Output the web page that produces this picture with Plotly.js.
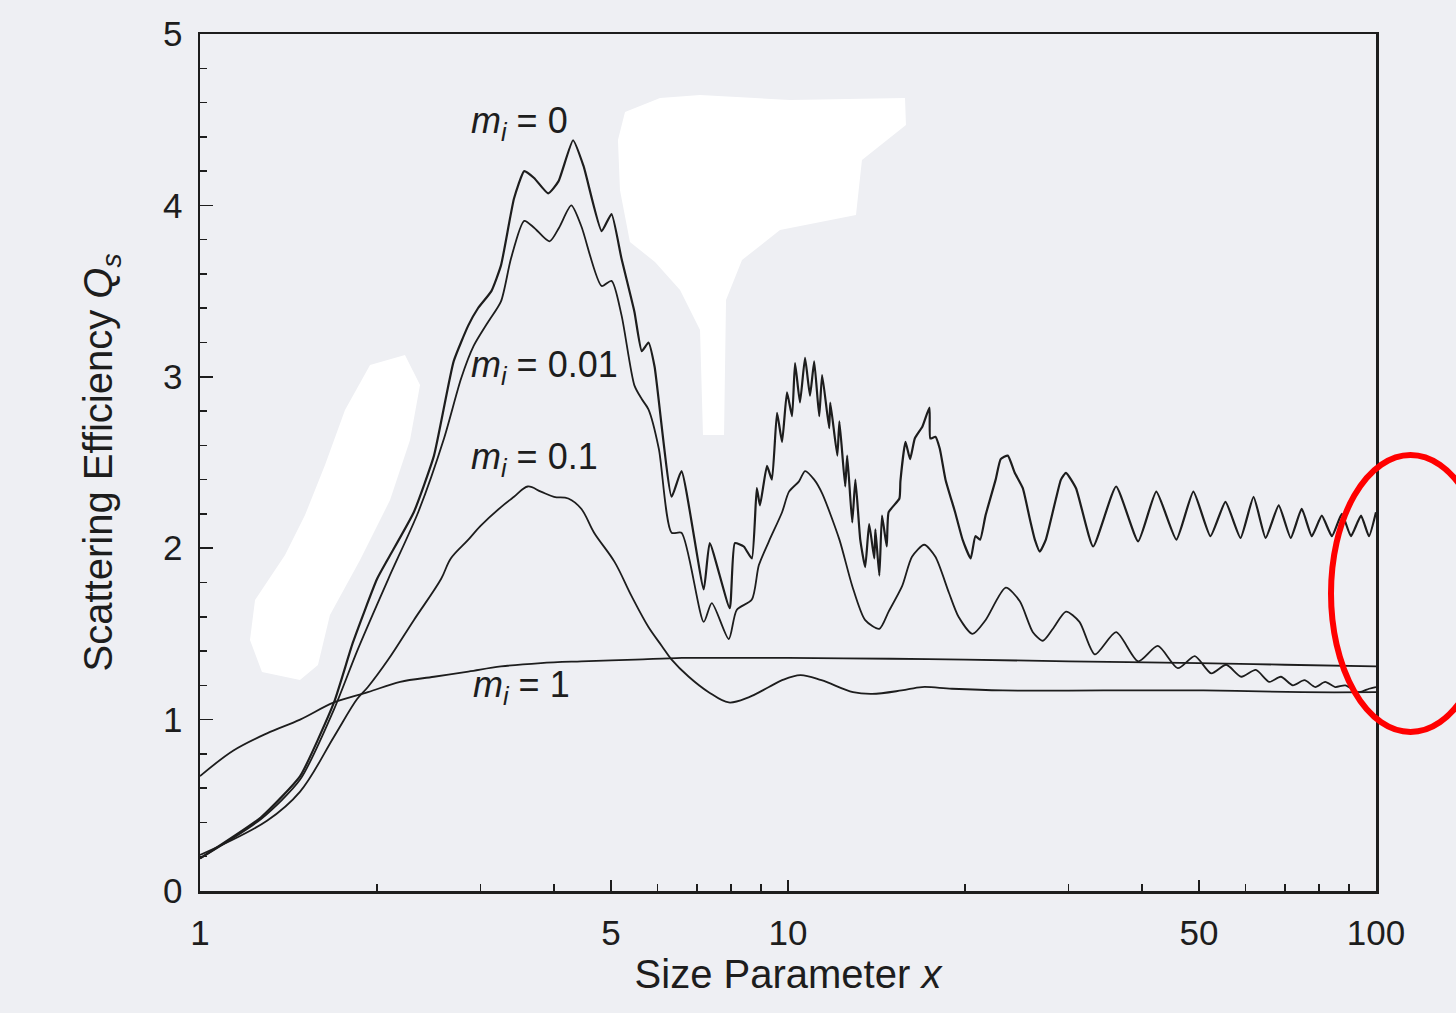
<!DOCTYPE html>
<html>
<head>
<meta charset="utf-8">
<script src="https://cdn.plot.ly/plotly-3.0.1.min.js"></script>
<style>html,body{margin:0;padding:0;background:#eeeff3;}</style>
</head>
<body>
<div id="chart" style="width:1456px;height:1013px;"></div>
<script>
// ---- data ----
const x_mi0 = [1.00,1.27,1.48,1.69,1.82,2.00,2.09,2.31,2.50,2.70,2.86,2.97,3.13,3.25,3.42,3.56,3.70,3.91,4.07,4.31,4.49,4.82,5.01,5.21,5.48,5.64,5.79,5.93,6.34,6.59,7.19,7.36,7.96,8.12,8.41,8.68,8.85,8.96,9.21,9.39,9.58,9.77,9.96,10.16,10.28,10.48,10.69,10.90,11.08,11.30,11.43,11.75,11.80,12.13,12.23,12.51,12.61,12.86,13.02,13.27,13.53,13.74,14.02,14.08,14.30,14.45,14.72,14.83,15.47,15.53,15.84,16.13,16.43,16.93,17.40,17.46,17.81,18.12,18.53,19.24,19.81,20.45,20.83,21.22,21.67,22.55,23.0,23.65,24.30,25.08,25.78,26.29,26.81,27.45,28.56,29.12,29.70,30.89,33.03,36.14,39.40,42.30,45.76,48.91,52.29,55.46,58.83,61.91,64.91,68.32,71.61,74.76,77.77,80.88,84.13,87.50,90.65,94.30,97.29,100];
const y_mi0 = [0.19,0.43,0.67,1.10,1.45,1.82,1.94,2.21,2.54,3.09,3.30,3.40,3.50,3.65,4.04,4.20,4.16,4.07,4.14,4.38,4.23,3.85,3.95,3.69,3.38,3.15,3.20,3.06,2.30,2.45,1.76,2.03,1.65,2.03,2.01,1.94,2.35,2.25,2.48,2.40,2.79,2.62,2.91,2.77,3.08,2.85,3.11,2.89,3.09,2.77,3.01,2.70,2.85,2.54,2.74,2.36,2.54,2.15,2.40,2.05,1.89,2.14,1.94,2.11,1.84,2.19,2.01,2.21,2.29,2.39,2.62,2.52,2.64,2.71,2.82,2.64,2.65,2.58,2.40,2.21,2.05,1.94,2.07,2.05,2.19,2.40,2.52,2.54,2.44,2.35,2.17,2.05,1.98,2.05,2.29,2.40,2.44,2.35,2.01,2.36,2.04,2.33,2.05,2.33,2.07,2.27,2.06,2.30,2.06,2.25,2.06,2.23,2.07,2.19,2.07,2.20,2.07,2.19,2.07,2.21];

const x_mi001 = [1.00,1.27,1.48,1.69,1.85,2.09,2.35,2.60,2.78,2.92,3.09,3.25,3.38,3.56,3.70,3.93,4.08,4.28,4.45,4.82,5.01,5.21,5.48,5.64,5.79,6.03,6.34,6.59,7.19,7.42,7.93,8.18,8.68,8.92,9.28,9.77,10.04,10.44,10.69,11.08,11.43,12.23,12.86,13.53,14.30,14.83,15.64,16.25,17.05,17.81,18.78,19.50,20.60,21.67,23.46,24.79,26.09,27.13,28.22,29.70,31.31,33.26,36.14,39.40,42.55,46.02,49.19,52.45,55.63,59.00,62.45,65.86,68.90,72.21,75.57,78.83,81.96,85.24,88.65,93.54,97.29,100];
const y_mi001 = [0.19,0.42,0.65,1.06,1.40,1.82,2.21,2.64,2.99,3.18,3.32,3.44,3.69,3.91,3.87,3.79,3.87,4.00,3.88,3.53,3.56,3.36,2.95,2.87,2.81,2.58,2.09,2.09,1.57,1.68,1.47,1.64,1.70,1.90,2.04,2.21,2.33,2.39,2.45,2.40,2.32,2.05,1.78,1.58,1.53,1.63,1.78,1.95,2.02,1.95,1.74,1.60,1.50,1.58,1.77,1.69,1.51,1.46,1.53,1.63,1.57,1.38,1.51,1.34,1.43,1.30,1.37,1.27,1.32,1.25,1.29,1.22,1.25,1.20,1.23,1.19,1.22,1.19,1.20,1.16,1.18,1.19];

const x_mi01 = [1.00,1.30,1.48,1.69,1.85,1.93,2.09,2.31,2.57,2.67,2.86,3.00,3.25,3.42,3.61,3.80,4.00,4.23,4.45,4.68,5.07,5.42,5.79,6.10,6.34,6.78,7.33,7.93,8.57,9.28,9.77,10.5,11.4,12.9,13.9,15.6,16.9,19.0,23.2,34.4,50.9,75,100];
const y_mi01 = [0.21,0.41,0.58,0.90,1.12,1.19,1.35,1.58,1.82,1.94,2.05,2.13,2.24,2.30,2.36,2.33,2.30,2.29,2.23,2.09,1.92,1.72,1.54,1.43,1.35,1.25,1.16,1.10,1.13,1.19,1.23,1.26,1.23,1.16,1.15,1.17,1.19,1.18,1.17,1.17,1.17,1.16,1.16];

const x_mi1 = [1.00,1.14,1.30,1.48,1.69,1.93,2.19,2.50,2.86,3.25,3.80,4.45,5.5,6.6,8.0,10,15,20,30,50,70,100];
const y_mi1 = [0.67,0.82,0.92,1.00,1.10,1.16,1.22,1.25,1.28,1.31,1.33,1.34,1.35,1.36,1.36,1.36,1.355,1.35,1.34,1.33,1.32,1.31];

const seriesLabels = ['<i>m</i><sub><i>i</i></sub> = 0', '<i>m</i><sub><i>i</i></sub> = 0.01', '<i>m</i><sub><i>i</i></sub> = 0.1', '<i>m</i><sub><i>i</i></sub> = 1'];
const labelX = [3.50, 3.86, 3.71, 3.52];
const labelY = [4.48, 3.06, 2.52, 1.19];

const xTickVals = [1, 5, 10, 50, 100];
const xTickText = ['1', '5', '10', '50', '100'];
const xMinorVals = [2,3,4,6,7,8,9,20,30,40,60,70,80,90];
const yTickVals = [0, 1, 2, 3, 4, 5];

// ---- drawing ----
const ink = '#1d1d1d';
const FONT = 'Liberation Sans, Arial, Helvetica, sans-serif';

const xs = [x_mi0, x_mi001, x_mi01, x_mi1];
const ys = [y_mi0, y_mi001, y_mi01, y_mi1];
const widths = [2.2, 1.8, 1.8, 1.8];
const smooth = [0.45, 0.7, 1.0, 1.0];
const traces = xs.map((xv, i) => ({
  x: xv, y: ys[i], type: 'scatter', mode: 'lines',
  line: {color: ink, width: widths[i], shape: 'spline', smoothing: smooth[i]},
  name: seriesLabels[i], showlegend: false, hoverinfo: 'skip'
}));

const annotations = seriesLabels.map((t, i) => ({
  x: Math.log10(labelX[i]), y: labelY[i], xref: 'x', yref: 'y',
  text: t, showarrow: false, font: {family: FONT, size: 36, color: ink}
}));

// paper-coordinate helper for decorative scan shapes (pixel -> paper)
const L = 200, R = 1376, T = 34, B = 891;
const px = (X) => ((X - L) / (R - L)).toFixed(4);
const py = (Y) => ((B - Y) / (B - T)).toFixed(4);
function blob(pts) {
  return 'M ' + pts.map(p => px(p[0]) + ',' + py(p[1])).join(' L ') + ' Z';
}
const blobA = [[625,112],[660,98],[700,95],[790,100],[905,98],[906,125],[862,160],[856,215],[780,230],[742,260],[726,300],[724,435],[703,435],[700,330],[680,290],[655,262],[630,242],[620,190],[618,140]];
const blobB = [[370,365],[405,355],[420,385],[410,440],[390,500],[360,560],[330,615],[318,665],[300,680],[262,672],[250,640],[255,600],[285,555],[305,515],[325,465],[345,410]];

const shapes = [
  {type: 'path', xref: 'paper', yref: 'paper', path: blob(blobA), fillcolor: '#ffffff', line: {width: 0}, layer: 'below'},
  {type: 'path', xref: 'paper', yref: 'paper', path: blob(blobB), fillcolor: '#ffffff', line: {width: 0}, layer: 'below'},
  {type: 'circle', xref: 'paper', yref: 'paper',
   x0: (1331 - L) / (R - L), x1: (1490 - L) / (R - L),
   y0: (B - 732) / (B - T), y1: (B - 455) / (B - T),
   line: {color: '#ff0000', width: 6}, fillcolor: 'rgba(0,0,0,0)', layer: 'above'}
];

const layout = {
  width: 1456, height: 1013,
  margin: {l: L, r: 1456 - R, t: T, b: 1013 - B},
  paper_bgcolor: '#eeeff3', plot_bgcolor: '#eeeff3',
  font: {family: FONT, color: ink},
  showlegend: false,
  xaxis: {
    type: 'log', range: [0, 2], automargin: false,
    tickmode: 'array', tickvals: xTickVals, ticktext: xTickText,
    ticks: 'inside', ticklen: 11, tickwidth: 1.5, tickcolor: ink,
    minor: {tickmode: 'array', tickvals: xMinorVals, ticks: 'inside', ticklen: 7, tickwidth: 1.5, tickcolor: ink, showgrid: false},
    showline: true, linecolor: ink, linewidth: 2.5, mirror: true,
    showgrid: false, zeroline: false,
    tickfont: {family: FONT, size: 35, color: ink},
    ticklabelstandoff: 9,
    title: {text: 'Size Parameter <i>x</i>', font: {family: FONT, size: 40, color: ink}, standoff: 10}
  },
  yaxis: {
    range: [0, 5], automargin: false,
    tickmode: 'array', tickvals: yTickVals,
    ticks: 'inside', ticklen: 13, tickwidth: 1.5, tickcolor: ink,
    minor: {dtick: 0.2, ticks: 'inside', ticklen: 7, tickwidth: 1.5, tickcolor: ink, showgrid: false},
    showline: true, linecolor: ink, linewidth: 2.5, mirror: true,
    showgrid: false, zeroline: false,
    tickfont: {family: FONT, size: 35, color: ink},
    ticklabelstandoff: 8,
    title: {text: 'Scattering Efficiency <i>Q</i><sub><i>s</i></sub>', font: {family: FONT, size: 40, color: ink}, standoff: 38}
  },
  annotations: annotations,
  shapes: shapes
};

Plotly.newPlot('chart', traces, layout, {staticPlot: true, displayModeBar: false});
</script>
</body>
</html>
